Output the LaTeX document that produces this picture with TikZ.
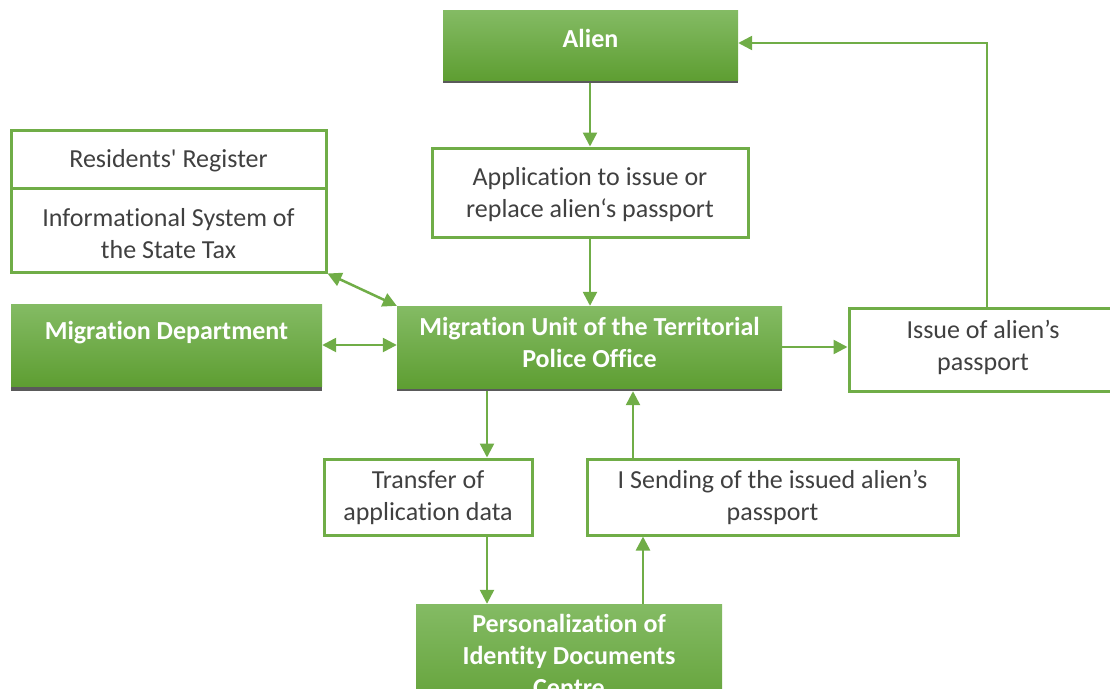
\documentclass[tikz,border=0pt]{standalone}
\usepackage{fontspec}
\setmainfont{Carlito}[Ligatures={TeX,NoCommon}]
\usetikzlibrary{arrows.meta}
\definecolor{gline}{HTML}{70AD47}
\definecolor{gtop}{HTML}{84BB64}
\definecolor{gbot}{HTML}{5E9E32}
\definecolor{tgray}{HTML}{404040}
\definecolor{shad}{HTML}{5A5A5A}
\tikzset{
  whitebox/.style={draw=gline, line width=3pt, fill=white, inner sep=0pt, align=center, text=tgray, font=\fontsize{26}{32}\selectfont},
  wtext/.style={text=tgray, font=\fontsize{26}{32}\selectfont, align=center, inner sep=0pt},
  greenbox/.style={top color=gtop, bottom color=gbot, draw=none, inner sep=0pt},
  gtext/.style={text=white, font=\fontsize{26}{32}\selectfont\bfseries, align=center, inner sep=0pt},
  conn/.style={draw=gline, line width=2.5pt, -{Triangle[length=14pt,width=14pt]}},
  dconn/.style={draw=gline, line width=2.5pt, {Triangle[length=14pt,width=14pt]}-{Triangle[length=14pt,width=14pt]}},
}
\begin{document}
\begin{tikzpicture}[x=1pt,y=-1pt]
\useasboundingbox (0,0) rectangle (1110,688);
\clip (0,0) rectangle (1110,688);
% shadows
\fill[shad] (443,78) rectangle (738,83);
\fill[shad] (11,386) rectangle (322,391);
\fill[shad] (397,386) rectangle (782,391);
% green boxes
\node[greenbox, minimum width=295pt, minimum height=70pt] (alien) at (590.5,45) {};
\node[gtext] (alient) at (590.5,38) {Alien};
\node[greenbox, minimum width=311pt, minimum height=82pt] (mdep) at (166.5,345) {};
\node[gtext] (mdept) at (166.5,333) {Migration Department};
\node[greenbox, minimum width=385pt, minimum height=82pt] (unit) at (589.5,347) {};
\node[gtext] (unitt) at (589.5,342) {Migration Unit of the Territorial\\Police Office};
\node[greenbox, minimum width=306pt, minimum height=120pt] (pers) at (569,664) {};
\node[gtext, anchor=north] (perst) at (569,614) {Personalization of\\Identity Documents\\Centre};
% white boxes
\node[whitebox, minimum width=316pt, minimum height=89pt] (app) at (590,192.5) {};
\node[wtext] (appt) at (590,194.5) {Application to issue or\\replace alien‘s passport};
\node[whitebox, minimum width=315pt, minimum height=58pt] (res) at (168.5,159) {};
\node[wtext] (rest) at (168.5,161) {Residents\textquotesingle{} Register};
\node[whitebox, minimum width=315pt, minimum height=84pt] (info) at (168.5,230) {};
\node[wtext] (infot) at (168.5,234) {Informational System of\\the State Tax};
\node[whitebox, minimum width=268pt, minimum height=83pt] (issue) at (983,349.5) {};
\node[wtext] (issuet) at (983,347.5) {Issue of alien’s\\passport};
\node[whitebox, minimum width=208pt, minimum height=76pt] (trans) at (428,497) {};
\node[wtext] (transt) at (428,497.5) {Transfer of\\application data};
\node[whitebox, minimum width=371pt, minimum height=76pt] (send) at (772.5,497) {};
\node[wtext] (sendt) at (772.5,497.5) {I Sending of the issued alien’s\\passport};
% connectors
\draw[conn] ([yshift=-3pt]alien.south -| app.north) -- (app.north);
\draw[conn] (app.south) -- (app.south |- unit.north);
\draw[dconn] (info.south east) -- (unit.north west);
\draw[dconn] (mdep.east) -- (unit.west |- mdep.east);
\draw[conn] (unit.east) -- (issue.west |- unit.east);
\coordinate (c1) at (987,43);
\draw[conn] (issue.north -| c1) -- (c1) -- (alien.east |- c1);
\coordinate (c2) at (487,0);
\draw[conn] ([yshift=-3pt]unit.south -| c2) -- (trans.north -| c2);
\draw[conn] (trans.south -| c2) -- (pers.north -| c2);
\coordinate (c4) at (643,0);
\draw[conn] (pers.north -| c4) -- (send.south -| c4);
\coordinate (c5) at (633,0);
\draw[conn] (send.north -| c5) -- ([yshift=-3pt]unit.south -| c5);
\end{tikzpicture}
\end{document}
